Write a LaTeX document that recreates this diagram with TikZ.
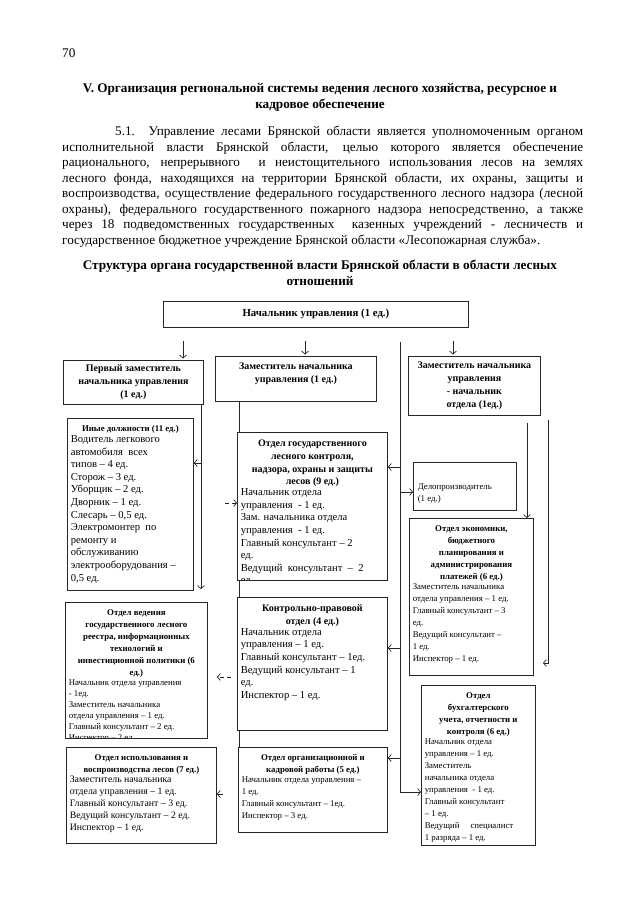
\documentclass[tikz,border=0pt]{standalone}
\usepackage{fontspec}
\setmainfont{Liberation Serif}
\usetikzlibrary{arrows.meta, calc}

\newcommand\txtfont{\fontsize{13.2}{15.5}\selectfont}
\newcommand\ttlfont{\bfseries\fontsize{10}{12.8}\selectfont}
\newcommand\sttlfont{\bfseries\fontsize{8.8}{12}\selectfont}
\newcommand\bigbody{\fontsize{10.6}{12.6}\selectfont}
\newcommand\midbody{\fontsize{9.8}{12}\selectfont}
\newcommand\smallbody{\fontsize{8.8}{12}\selectfont}
\newcommand\tightbody{\fontsize{8.8}{11}\selectfont}

% title + list of posts inside a unit box
\newcommand\unittext[4]{%
  \node[ttl, font=#1, anchor=north] (ttl) at ($(path picture bounding box.north)+(0pt,-7pt)$) {#2};
  \node[bdy, font=#3, anchor=north west] (lst) at ($(path picture bounding box.west |- ttl.south)+(3pt,-1pt)$) {#4};}

\tikzset{
  unit/.style={draw=black!85, line width=0.8pt, anchor=north west, inner sep=0pt},
  ttl/.style={align=center, inner sep=0pt, minimum width=0pt, minimum height=0pt},
  bdy/.style={align=left, inner sep=0pt, minimum width=0pt, minimum height=0pt},
  para/.style={font=\txtfont, inner sep=0pt, anchor=base west},
  head/.style={font=\bfseries\txtfont, inner sep=0pt, anchor=base},
  link/.style={draw=black!85, line width=0.7pt},
  arr/.style={link, -{Straight Barb[length=3pt,width=7pt]}},
}

\begin{document}
\begin{tikzpicture}[x=1pt, y=-1pt]
  \fill[white] (0,0) rectangle (640,905);
  \useasboundingbox (0,0) rectangle (640,905);

  % page text
  \node[para] (pg) at (62,57) {70};
  \node[head] (h1) at (320,92) {V. Организация региональной системы ведения лесного хозяйства, ресурсное и};
  \node[head] (h2) at (320,108) {кадровое обеспечение};

  \node[para] (p1) at (115,135) {\makebox[468pt][s]{5.1. Управление лесами Брянской области является уполномоченным органом}};
  \foreach \y/\t in {151/{исполнительной власти Брянской области, целью которого является обеспечение},
                     166/{рационального, непрерывного \ и неистощительного использования лесов на землях},
                     182/{лесного фонда, находящихся на территории Брянской области, их охраны, защиты и},
                     197/{воспроизводства, осуществление федерального государственного лесного надзора (лесной},
                     213/{охраны), федерального государственного пожарного надзора непосредственно, а также},
                     228/{через 18 подведомственных государственных \ казенных учреждений - лесничеств и}} {
    \node[para] (p\y) at (62,\y) {\makebox[521pt][s]{\t}};
  }
  \node[para] (p8) at (62,244) {государственное бюджетное учреждение Брянской области «Лесопожарная служба».};

  \node[head] (s1) at (320,269) {Структура органа государственной власти Брянской области в области лесных};
  \node[head] (s2) at (320,285) {отношений};

  % top level
  \node[unit, minimum width=305pt, minimum height=26pt, font=\bfseries\fontsize{10.8}{12}\selectfont] (nach) at (163,301) {Начальник управления (1 ед.)};
  \node[unit, minimum width=140pt, minimum height=44pt, font=\ttlfont, align=center] (zam1) at (63,360) {Первый заместитель\\начальника управления\\(1 ед.)};
  \node[unit, minimum width=161pt, minimum height=45pt,
        path picture={\node[ttl, font=\ttlfont, anchor=north] (ttl) at ($(path picture bounding box.north)+(0pt,-6pt)$) {Заместитель начальника\\управления (1 ед.)};}] (zam2) at (215,356) {};
  \node[unit, minimum width=132pt, minimum height=59pt, font=\ttlfont, align=center] (zam3) at (408,356) {Заместитель начальника\\управления\\- начальник\\отдела (1ед.)};

  % left column
  \node[unit, minimum width=126pt, minimum height=172pt,
        path picture={\unittext{\sttlfont}{Иные должности (11 ед.)}{\bigbody}{Водитель легкового\\автомобиля \ всех\\типов – 4 ед.\\Сторож – 3 ед.\\Уборщик – 2 ед.\\Дворник – 1 ед.\\Слесарь – 0,5 ед.\\Электромонтер \ по\\ремонту и\\обслуживанию\\электрооборудования –\\0,5 ед.}}] (inye) at (67,418) {};
  \node[unit, minimum width=142pt, minimum height=136pt,
        path picture={\unittext{\sttlfont}{Отдел ведения\\государственного лесного\\реестра, информационных\\технологий и\\инвестиционной политики (6\\ед.)}{\tightbody}{Начальник отдела управления\\- 1ед.\\Заместитель начальника\\отдела управления – 1 ед.\\Главный консультант – 2 ед.\\Инспектор – 2 ед.}}] (ved) at (65,602) {};
  \node[unit, minimum width=150pt, minimum height=96pt,
        path picture={\unittext{\sttlfont}{Отдел использования и\\воспроизводства лесов (7 ед.)}{\midbody}{Заместитель начальника\\отдела управления – 1 ед.\\Главный консультант – 3 ед.\\Ведущий консультант – 2 ед.\\Инспектор – 1 ед.}}] (isp) at (66,747) {};

  % middle column
  \node[unit, minimum width=150pt, minimum height=148pt,
        path picture={\unittext{\ttlfont}{Отдел государственного\\лесного контроля,\\надзора, охраны и защиты\\лесов (9 ед.)}{\bigbody}{Начальник отдела\\управления \ - 1 ед.\\Зам. начальника отдела\\управления \ - 1 ед.\\Главный консультант – 2\\ед.\\Ведущий \ консультант \ – \ 2\\ед.}}] (gosk) at (237,432) {};
  \node[unit, minimum width=150pt, minimum height=133pt,
        path picture={\unittext{\ttlfont}{Контрольно-правовой\\отдел (4 ед.)}{\bigbody}{Начальник отдела\\управления – 1 ед.\\Главный консультант – 1ед.\\Ведущий консультант – 1\\ед.\\Инспектор – 1 ед.}}] (kp) at (237,597) {};
  \node[unit, minimum width=149pt, minimum height=85pt,
        path picture={\unittext{\sttlfont}{Отдел организационной и\\кадровой работы (5 ед.)}{\smallbody}{Начальник отдела управления –\\1 ед.\\Главный консультант – 1ед.\\Инспектор – 3 ед.}}] (org) at (238,747) {};

  % right column
  \node[unit, minimum width=103pt, minimum height=48pt,
        path picture={\node[bdy, font=\smallbody, anchor=west] (dtx) at ($(path picture bounding box.west)+(4pt,-7pt)$) {Делопроизводитель\\(1 ед.)};}] (delo) at (413,462) {};
  \node[unit, minimum width=124pt, minimum height=157pt,
        path picture={\unittext{\sttlfont}{Отдел экономики,\\бюджетного\\планирования и\\администрирования\\платежей (6 ед.)}{\smallbody}{Заместитель начальника\\отдела управления – 1 ед.\\Главный консультант – 3\\ед.\\Ведущий консультант –\\1 ед.\\Инспектор – 1 ед.}}] (econ) at (409,518) {};
  \node[unit, minimum width=114pt, minimum height=160pt,
        path picture={\unittext{\sttlfont}{Отдел\\бухгалтерского\\учета, отчетности и\\контроля (6 ед.)}{\smallbody}{Начальник отдела\\управления – 1 ед.\\Заместитель\\начальника отдела\\управления \ - 1 ед.\\Главный консультант\\– 1 ед.\\Ведущий \quad специалист\\1 разряда – 1 ед.}}] (buh) at (421,685) {};

  % arrows under the head
  \foreach \n/\x in {zam1/183, zam2/305, zam3/453} {
    \coordinate (top\n) at (\x,341);
    \draw[arr, shorten >=1.5pt] (top\n) -- (top\n |- \n.north);
  }

  % first deputy
  \coordinate (lt) at (201,404);
  \coordinate (lb) at (201,589);
  \draw[arr] (lt) -- (lb);
  \coordinate (la) at (201,463);
  \draw[arr] (la) -- (la -| inye.east);

  % deputy, middle column
  \coordinate (ms) at (239,0);
  \draw[link] (ms |- zam2.south) -- (ms |- gosk.north);
  \draw[link] (ms |- gosk.south) -- (ms |- kp.north);
  \draw[link] (ms |- kp.south) -- (ms |- org.north);

  \coordinate (da) at (225,503);
  \draw[arr, dash pattern=on 4pt off 3pt] (da) -- (da -| gosk.west);
  \coordinate (db) at (231,677);
  \coordinate (db2) at (217,677);
  \draw[arr, dash pattern=on 4pt off 3pt] (db) -- (db2);
  \coordinate (dc) at (223,794);
  \draw[arr] (dc) -- (dc -| isp.east);

  % right trunk
  \coordinate (rt) at (400,342);
  \coordinate (rb) at (400,792);
  \draw[arr] (rt) -- (rb) -- (rb -| buh.west);
  \foreach \b/\y in {gosk/467, kp/648, org/758} {
    \coordinate (r\b) at (400,\y);
    \draw[arr] (r\b) -- (r\b -| \b.east);
  }
  \coordinate (rdelo) at (400,492);
  \draw[arr] (rdelo) -- (rdelo -| delo.west);

  % head of department
  \coordinate (et) at (527,423);
  \draw[arr] (et) -- (et |- econ.north);
  \coordinate (ft) at (548,420);
  \coordinate (fb) at (548,663);
  \coordinate (fe) at (543,663);
  \draw[arr] (ft) -- (fb) -- (fe);
\end{tikzpicture}
\end{document}
